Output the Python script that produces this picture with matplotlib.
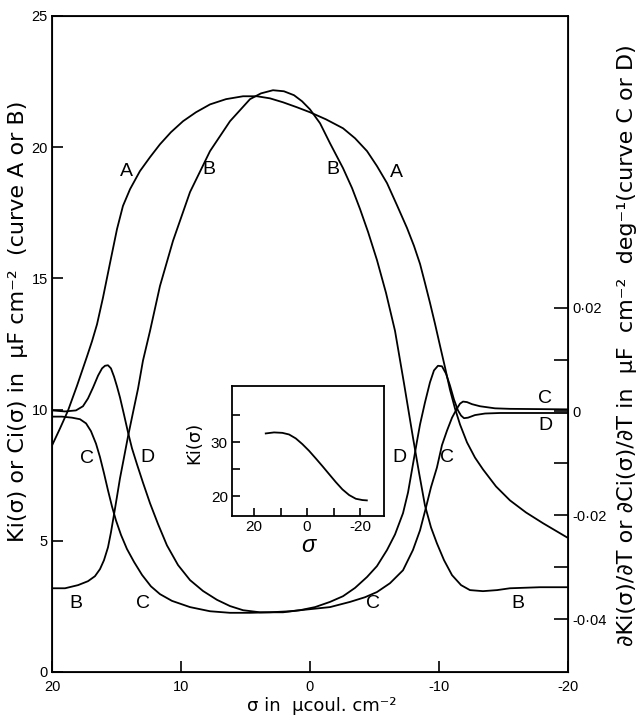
import numpy as np
import matplotlib.pyplot as plt

plt.rcParams['font.family'] = ['Liberation Sans', 'DejaVu Sans']

# curve A : Ki(sigma), left axis
sigma_a = [20.0, 19.38, 18.76, 18.06, 17.29, 16.90, 16.51, 16.05, 15.50, 14.96, 14.50, 13.95,
           13.18, 12.40, 11.63, 10.78, 9.84, 8.84, 7.75, 6.51, 5.19, 4.11, 3.10, 2.09, 1.01,
           0.0, -1.24, -2.56, -3.49, -4.42, -5.19, -5.97, -6.74, -7.52, -8.06, -8.53, -8.91,
           -9.30, -9.69, -10.08, -10.47, -10.85, -11.24, -11.63, -12.17, -12.79, -13.41,
           -14.42, -15.50, -16.74, -18.06, -18.99, -19.92]
ki_a = [8.63, 9.28, 9.96, 10.91, 12.02, 12.60, 13.25, 14.26, 15.59, 16.88, 17.76, 18.40,
        19.09, 19.62, 20.11, 20.57, 20.99, 21.33, 21.63, 21.83, 21.94, 21.94, 21.86, 21.71,
        21.52, 21.33, 21.06, 20.72, 20.34, 19.85, 19.28, 18.63, 17.79, 16.92, 16.24, 15.55,
        14.83, 14.07, 13.27, 12.43, 11.60, 10.76, 10.04, 9.43, 8.75, 8.17, 7.72,
        7.07, 6.54, 6.08, 5.67, 5.40, 5.13]

# curve B : Ci(sigma), left axis
sigma_b = [20.0, 18.99, 17.98, 17.21, 16.67, 16.28, 15.97, 15.66, 15.43, 15.19, 14.96, 14.73,
           14.42, 14.11, 13.72, 13.33, 12.95, 12.40, 11.63, 10.62, 9.30, 7.75, 6.20, 4.65,
           3.80, 2.87, 2.02, 1.24, 0.62, 0.0, -0.78, -1.55, -2.56, -3.26, -3.88, -4.50,
           -5.19, -5.89, -6.59, -7.29, -7.98, -8.45, -8.91, -9.38, -9.84, -10.39, -11.01,
           -11.71, -12.40, -13.41, -14.50, -15.50, -17.83, -19.92]
ci_b = [3.19, 3.19, 3.31, 3.46, 3.65, 3.92, 4.26, 4.75, 5.32, 6.01, 6.69, 7.38,
        8.17, 8.97, 9.89, 10.80, 11.86, 13.0, 14.71, 16.43, 18.29, 19.85, 20.99, 21.83,
        22.05, 22.17, 22.13, 21.98, 21.75, 21.44, 20.91, 20.15, 19.20, 18.44, 17.64, 16.77,
        15.70, 14.45, 13.0, 10.99, 8.94, 7.60, 6.35, 5.51, 4.90, 4.26, 3.69,
        3.31, 3.12, 3.08, 3.12, 3.19, 3.23, 3.23]

# curve C : right axis
sigma_c = [20.0, 19.22, 18.45, 17.83, 17.36, 16.98, 16.59, 16.28, 15.97, 15.66, 15.35, 15.04,
           14.65, 14.19, 13.64, 13.02, 12.33, 11.63, 10.70, 9.30, 7.75, 6.20, 4.65, 3.10,
           1.55, 0.0, -1.55, -3.10, -4.26, -5.19, -6.20, -7.21, -7.98, -8.53, -8.99, -9.38,
           -9.84, -10.23, -10.62, -11.01, -11.40, -11.63, -11.86, -12.17, -12.56, -13.18,
           -14.34, -15.50, -19.92]
dc_c = [-0.0010, -0.0010, -0.0012, -0.0015, -0.0023, -0.0038, -0.0062, -0.0088, -0.0119,
        -0.0152, -0.0183, -0.0210, -0.0238, -0.0265, -0.0290, -0.0315, -0.0337, -0.0352,
        -0.0365, -0.0377, -0.0385, -0.0388, -0.0388, -0.0387, -0.0385, -0.0381, -0.0377,
        -0.0367, -0.0358, -0.0348, -0.0331, -0.0306, -0.0267, -0.0229, -0.0185, -0.0146,
        -0.0108, -0.0065, -0.0037, -0.0012, 0.0006, 0.0015, 0.0019, 0.0018, 0.0014, 0.0010,
        0.0006, 0.0005, 0.0004]

# curve D : right axis
sigma_d = [20.0, 18.99, 18.14, 17.60, 17.21, 16.82, 16.43, 16.12, 15.89, 15.66, 15.43, 15.19,
           14.96, 14.73, 14.42, 14.11, 13.80, 13.41, 12.95, 12.40, 11.78, 11.09, 10.23, 9.30,
           8.29, 7.21, 6.20, 5.19, 3.88, 2.09, 0.78, -0.39, -1.55, -2.56, -3.49, -4.42,
           -5.19, -5.97, -6.59, -7.21, -7.60, -7.98, -8.29, -8.53, -8.91, -9.30, -9.61,
           -9.92, -10.23, -10.54, -10.85, -11.16, -11.47, -11.71, -11.94, -12.25, -12.79,
           -13.57, -14.73, -19.92]
dd_d = [0.0002, 0.0, 0.0002, 0.0010, 0.0025, 0.0046, 0.0069, 0.0083, 0.0088, 0.0089, 0.0083,
        0.0067, 0.0048, 0.0027, -0.0006, -0.0040, -0.0071, -0.0102, -0.0137, -0.0177,
        -0.0217, -0.0258, -0.0296, -0.0325, -0.0346, -0.0363, -0.0375, -0.0383, -0.0387,
        -0.0387, -0.0383, -0.0377, -0.0367, -0.0356, -0.0340, -0.0319, -0.0298, -0.0267,
        -0.0237, -0.0196, -0.0156, -0.0102, -0.0058, -0.0025, 0.0017, 0.0056, 0.0079,
        0.0088, 0.0087, 0.0073, 0.0050, 0.0023, 0.0002, -0.0008, -0.0013, -0.0012, -0.0007,
        -0.0004, -0.0003, -0.0003]

# inset : Ki(sigma)
sigma_in = [15.58, 12.45, 9.32, 6.79, 4.26, 1.77, -0.75, -3.28, -5.77, -8.30, -10.83,
            -13.32, -15.85, -18.38, -20.87, -22.53]
ki_in = [31.61, 31.80, 31.72, 31.42, 30.69, 29.63, 28.39, 26.98, 25.56, 24.07, 22.59,
         21.24, 20.19, 19.50, 19.26, 19.20]

LW = 1.3
lab_font = dict(family=['DejaVu Sans'])

fig = plt.figure(figsize=(6.4, 7.19), dpi=100)
ax = fig.add_axes([0.08125, 0.0654, 0.80625, 0.9124])
ax.plot(sigma_a, ki_a, color='black', lw=LW)
ax.plot(sigma_b, ci_b, color='black', lw=LW)
ax.set_xlim(20, -20)
ax.set_ylim(0, 25)
ax.set_xticks([20, 10, 0, -10, -20])
ax.set_xticklabels(['20', '10', '0', '-10', '-20'])
ax.set_yticks([0, 5, 10, 15, 20, 25])
ax.tick_params(direction='in', length=8, width=1.2, labelsize=10.5, pad=6)
ax.tick_params(axis='y', pad=3)
for sp in ax.spines.values():
    sp.set_linewidth(1.3)

ax.set_xlabel('σ in  μcoul. cm⁻²', fontsize=13, **lab_font)
ax.xaxis.set_label_coords(0.523, -0.038)
ax.set_ylabel('Ki(σ) or Ci(σ) in  μF cm⁻²  (curve A or B)', fontsize=16, **lab_font)
ax.yaxis.set_label_coords(-0.047, 0.534)

ax2 = ax.twinx()
ax2.plot(sigma_c, dc_c, color='black', lw=LW)
ax2.plot(sigma_d, dd_d, color='black', lw=LW)
ax2.set_ylim(-0.0502, 0.0762)
ax2.set_yticks([-0.04, -0.02, 0, 0.02])
ax2.set_yticklabels(['-0·04', '-0·02', '0', '0·02'])
ax2.set_yticks([-0.03, -0.01, 0.01], minor=True)
ax2.tick_params(which='both', direction='in', length=10, width=1.2, labelsize=10.5, pad=3)
ax2.set_ylabel('∂Ki(σ)/∂T or ∂Ci(σ)/∂T in  μF  cm⁻²  deg⁻¹(curve C or D)',
               fontsize=16, rotation=90, **lab_font)
ax2.yaxis.set_label_coords(1.094, 0.498)

# curve letters
lab = dict(fontsize=14, ha='center', va='center')
ax.text(14.19, 19.09, 'A', **lab)
ax.text(7.83, 19.13, 'B', **lab)
ax.text(-1.78, 19.13, 'B', **lab)
ax.text(-6.67, 19.05, 'A', **lab)
ax.text(17.29, 8.14, 'C', **lab)
ax.text(12.64, 8.17, 'D', **lab)
ax.text(18.14, 2.62, 'B', **lab)
ax.text(12.95, 2.62, 'C', **lab)
ax.text(-6.90, 8.17, 'D', **lab)
ax.text(-10.62, 8.17, 'C', **lab)
ax.text(-4.88, 2.62, 'C', **lab)
ax.text(-16.12, 2.62, 'B', **lab)
ax.text(-18.22, 10.42, 'C', **lab)
ax.text(-18.22, 9.39, 'D', **lab)

# inset Ki(sigma)
axin = fig.add_axes([0.3625, 0.2823, 0.2375, 0.1808])
axin.plot(sigma_in, ki_in, color='black', lw=LW)
axin.set_xlim(28.3, -29.0)
axin.set_ylim(16.3, 40.4)
axin.set_xticks([20, 0, -20])
axin.set_xticklabels(['20', '0', '-20'])
axin.set_xticks([10, -10], minor=True)
axin.set_yticks([20, 30])
axin.set_yticks([25, 35], minor=True)
axin.tick_params(which='both', direction='in', length=6, width=1.2, labelsize=11, pad=3)
for sp in axin.spines.values():
    sp.set_linewidth(1.3)
axin.set_ylabel('Ki(σ)', fontsize=13, **lab_font)
axin.yaxis.set_label_coords(-0.19, 0.56)
axin.set_xlabel('σ', fontsize=17, style='italic', labelpad=0)

plt.savefig('out.png', dpi=100)
